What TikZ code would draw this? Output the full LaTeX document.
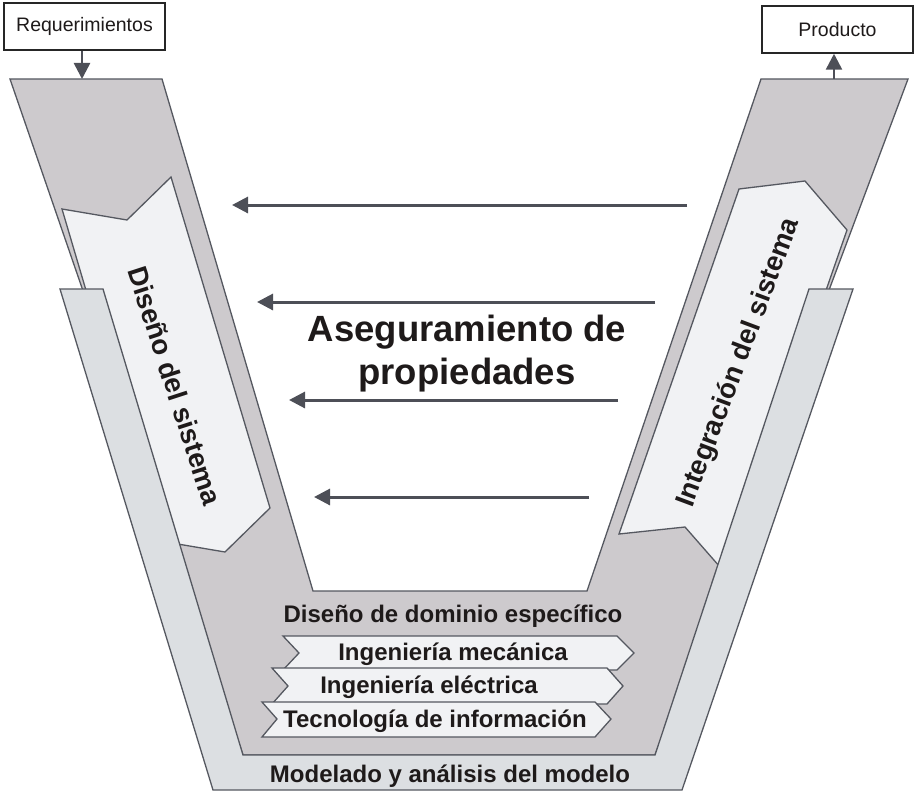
\documentclass[tikz,border=0pt]{standalone}
\usepackage{fontspec}
\setmainfont{Liberation Sans}
\usetikzlibrary{arrows.meta}
\definecolor{vdark}{HTML}{CDCACD}
\definecolor{vlight}{HTML}{DCDFE2}
\definecolor{pent}{HTML}{F1F2F4}
\definecolor{edgec}{HTML}{555860}
\definecolor{arrc}{HTML}{4D4F57}
\definecolor{txtc}{HTML}{1E1A1A}
\begin{document}
\begin{tikzpicture}[x=1pt,y=-1pt,
  shp/.style={draw=edgec,line width=1.3pt,line join=miter},
  flow/.style={draw=arrc,line width=3pt,-{Triangle[length=16pt,width=16pt]}},
  smallbox/.style={draw=black!85,line width=1.5pt,fill=white,inner sep=0pt,
     font=\fontsize{19.5}{23}\selectfont,text=txtc},
  lbl/.style={text=txtc,inner sep=0pt,font=\bfseries\fontsize{24}{28}\selectfont},
  biglbl/.style={text=txtc,inner sep=0pt,align=center,font=\bfseries\fontsize{36.5}{43}\selectfont},
  rotlbl/.style={text=txtc,inner sep=0pt,font=\bfseries\fontsize{27.5}{32}\selectfont}
  ]
\useasboundingbox (0,0) rectangle (921,800);
% dark V
\path[shp,fill=vdark] (10,79)--(162,79)--(313,591)--(587,591)--(761,79)--(908,79)--(655,755)--(243,755)--cycle;
% side chevrons
\path[shp,fill=pent] (62,209)--(127,220)--(171,177)--(270,508)--(225,552)--(160,541)--cycle;
\path[shp,fill=pent] (739,189)--(805,181)--(847,230)--(727,575)--(685,527)--(619,534)--cycle;
% light outer band
\path[shp,fill=vlight] (60,289)--(103,289)--(243,755)--(655,755)--(809,289)--(853,289)--(682,790)--(213,790)--cycle;
% bottom chevrons
\path[shp,fill=pent] (283,636)--(617,636)--(634,653)--(617,670)--(283,670)--(299,653)--cycle;
\path[shp,fill=pent] (272,668)--(607,668)--(623,686)--(607,704)--(272,704)--(288,686)--cycle;
\path[shp,fill=pent] (262,702)--(595,702)--(611,719)--(595,737)--(262,737)--(277,719)--cycle;

% boxes
\node[smallbox,minimum width=161pt,minimum height=47pt] (req) at (84.5,26.5) {Requerimientos};
\node[smallbox,minimum width=151pt,minimum height=47pt] (prod) at (837.5,29.5) {Producto};
\coordinate (reqin) at (82,79);
\coordinate (prodout) at (834,79);
\draw[flow,line width=2.6pt] (req.south -| reqin) -- (reqin);
\draw[flow,line width=2.6pt] (prodout) -- (prodout |- prod.south);

% feedback arrows
\coordinate (a1s) at (687,205); \coordinate (a1e) at (232,205);
\coordinate (a2s) at (655,302); \coordinate (a2e) at (257,302);
\coordinate (a3s) at (618,400); \coordinate (a3e) at (289,400);
\coordinate (a4s) at (589,497); \coordinate (a4e) at (314,497);
\draw[flow] (a1s) -- (a1e);
\draw[flow] (a2s) -- (a2e);
\draw[flow] (a3s) -- (a3e);
\draw[flow] (a4s) -- (a4e);

% texts
\node[biglbl] (aseg) at (467,354) {Aseguramiento de\\propiedades};
\node[rotlbl,rotate=-72] (dis) at (175,386) {Diseño del sistema};
\node[rotlbl,rotate=69.5] (integ) at (739,363) {Integración del sistema};
\node[lbl,anchor=base] (dom) at (453,622) {Diseño de dominio específico};
\node[lbl,anchor=base] (mec) at (453,660) {Ingeniería mecánica};
\node[lbl,anchor=base] (ele) at (429,693) {Ingeniería eléctrica};
\node[lbl,anchor=base] (tec) at (435,727) {Tecnología de información};
\node[lbl,anchor=base] (mod) at (450,782) {Modelado y análisis del modelo};
\end{tikzpicture}
\end{document}
